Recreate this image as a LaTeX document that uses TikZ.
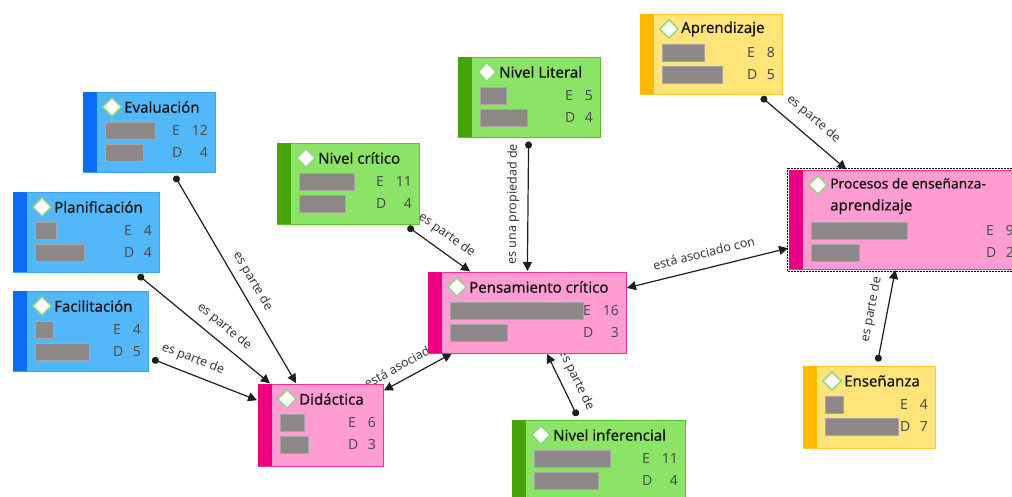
\documentclass[tikz,border=0pt]{standalone}
\usepackage{fontspec}
\setmainfont{Noto Sans}
\newfontfamily\titlefont{Noto Sans}[FakeBold=0.35]
\usetikzlibrary{arrows.meta,positioning,shapes.geometric,backgrounds}

\definecolor{blueFill}{HTML}{52B8FA}
\definecolor{blueBar}{HTML}{0A6CF0}
\definecolor{blueLine}{HTML}{3AA4F4}
\definecolor{greenFill}{HTML}{8CE466}
\definecolor{greenBar}{HTML}{46A50A}
\definecolor{greenLine}{HTML}{5CC22A}
\definecolor{pinkFill}{HTML}{FF9DD3}
\definecolor{pinkBar}{HTML}{EC0083}
\definecolor{pinkLine}{HTML}{F0319A}
\definecolor{yellowFill}{HTML}{FFE47A}
\definecolor{yellowBar}{HTML}{FFB900}
\definecolor{yellowLine}{HTML}{FFC72A}
\definecolor{quoteGray}{HTML}{8C8888}
\definecolor{numGray}{HTML}{4E4E4E}
\definecolor{iconGreen}{HTML}{8ED67E}
\definecolor{linkGray}{HTML}{1E1E1E}
\definecolor{labelGray}{HTML}{3A3A3A}

\tikzset{
  concept/.style={rectangle, line width=1pt, inner sep=0pt, outer sep=0pt},
  blueconcept/.style={concept, fill=blueFill, draw=blueLine},
  greenconcept/.style={concept, fill=greenFill, draw=greenLine},
  pinkconcept/.style={concept, fill=pinkFill, draw=pinkLine},
  yellowconcept/.style={concept, fill=yellowFill, draw=yellowLine},
  icon/.style={diamond, draw=iconGreen, fill=white, line width=1.4pt, inner sep=0pt, minimum size=19pt},
  conctitle/.style={anchor=west, inner sep=0pt, align=left, font=\titlefont\fontsize{15}{22}\selectfont, text=black!92},
  freqtext/.style={inner sep=0pt, font=\fontsize{14}{17}\selectfont, text=numGray},
  quotebar/.style={fill=quoteGray, draw=quoteGray!75!white, line width=0.6pt},
  link/.style={draw=linkGray, line width=1.2pt, {Circle[length=7pt]}-{Triangle[length=9pt,width=9pt]}, shorten <=4.5pt, shorten >=1pt},
  assoc/.style={draw=linkGray, line width=1.2pt, {Triangle[length=9pt,width=9pt]}-{Triangle[length=9pt,width=9pt]}, shorten <=1pt, shorten >=1pt},
  linklabel/.style={font=\fontsize{12.5}{14}\selectfont, text=labelGray, inner sep=2pt},
  selbox/.style={draw=black, line width=0.6pt, dash pattern=on 0.7pt off 0.8pt}
}

% body of a concept box: node, bar colour, title, quote widths, E, D, extra height
\newcommand{\conceptbody}[8]{%
  \fill[#2] (#1.north west) rectangle ([xshift=14pt]#1.south west);
  \node[icon] (#1-icon) at ([shift={(29,15)}]#1.north west) {};
  \node[conctitle] (#1-title) at ([shift={(41,15+#8/2)}]#1.north west) {#3};
  \filldraw[quotebar] ([shift={(22,30+#8)}]#1.north west) rectangle ++(#4,17);
  \filldraw[quotebar] ([shift={(22,52+#8)}]#1.north west) rectangle ++(#5,17);
  \ifnum#6>9 \def\ecol{-43}\else \def\ecol{-35}\fi
  \node[freqtext, anchor=west] (#1-e) at ([shift={(\ecol,38.5+#8)}]#1.north east) {E};
  \node[freqtext, anchor=east] (#1-en) at ([shift={(-7,38.5+#8)}]#1.north east) {#6};
  \node[freqtext, anchor=west] (#1-d) at ([shift={(\ecol,60.5+#8)}]#1.north east) {D};
  \node[freqtext, anchor=east] (#1-dn) at ([shift={(-7,60.5+#8)}]#1.north east) {#7};
}

\begin{document}
\begin{tikzpicture}[x=1pt, y=-1pt]
  \useasboundingbox (0,0) rectangle (1012,496);
  \clip (0,0) rectangle (1012,496);

  % Concept boxes
  \node[blueconcept, minimum width=132pt, minimum height=80pt] (eva) at (149,132) {};
  \node[blueconcept, minimum width=146pt, minimum height=80pt] (plan) at (86,232) {};
  \node[blueconcept, minimum width=135pt, minimum height=80pt] (faci) at (80.5,331) {};
  \node[greenconcept, minimum width=142pt, minimum height=81pt] (crit) at (348,183.5) {};
  \node[greenconcept, minimum width=142pt, minimum height=80pt] (lit) at (529,97) {};
  \node[pinkconcept, minimum width=198pt, minimum height=81pt] (pens) at (527,312.5) {};
  \node[pinkconcept, minimum width=125pt, minimum height=82pt] (dida) at (320.5,425) {};
  \node[greenconcept, minimum width=173pt, minimum height=80pt] (infe) at (598.5,460) {};
  \node[yellowconcept, minimum width=142pt, minimum height=80pt] (apre) at (711,54) {};
  \node[pinkconcept, minimum width=232pt, minimum height=99pt] (proc) at (905,219.5) {};
  \node[yellowconcept, minimum width=132pt, minimum height=82pt] (ense) at (869,407) {};

  \conceptbody{eva}{blueBar}{Evaluación}{50}{38}{12}{4}{0}
  \conceptbody{plan}{blueBar}{Planificación}{21}{49}{4}{4}{0}
  \conceptbody{faci}{blueBar}{Facilitación}{18}{54}{4}{5}{0}
  \conceptbody{crit}{greenBar}{Nivel crítico}{55}{46}{11}{4}{0}
  \conceptbody{lit}{greenBar}{Nivel Literal}{26}{47}{5}{4}{0}
  \conceptbody{pens}{pinkBar}{Pensamiento crítico}{133}{57}{16}{3}{0}
  \conceptbody{dida}{pinkBar}{Didáctica}{24}{28}{6}{3}{0}
  \conceptbody{infe}{greenBar}{Nivel inferencial}{76}{64}{11}{4}{0}
  \conceptbody{apre}{yellowBar}{Aprendizaje}{42}{60}{8}{5}{0}
  \conceptbody{proc}{pinkBar}{\fontsize{13.8}{22}\selectfont Procesos de enseñanza-\\aprendizaje}{96}{48}{9}{2}{22}
  \conceptbody{ense}{yellowBar}{Enseñanza}{18}{73}{4}{7}{0}

  % selection frame
  \draw[selbox] ([shift={(-2,-2)}]proc.north west) rectangle ([shift={(2,2)}]proc.south east);

  % Links, under the boxes
  \begin{pgfonlayer}{background}
    \fill[white] (0,0) rectangle (1012,496);
    \draw[link] (eva) -- (dida) node[linklabel, pos=0.55, sloped, above=5pt] {es parte de};
    \draw[link] (plan) -- (dida) node[linklabel, pos=0.59, sloped, above=6pt] {es parte de};
    \draw[link] (faci) -- (dida) node[linklabel, pos=0.36, sloped, above=6pt] {es parte de};
    \draw[link] (crit) -- (pens) node[linklabel, pos=0.5, sloped, above=7pt] {es parte de};
    \draw[link] (lit) -- (pens) node[linklabel, midway, sloped, above=6pt] {es una propiedad de};
    \draw[link] (infe) -- (pens) node[linklabel, pos=0.5, sloped, above=6pt] {es parte de};
    \draw[link] (apre) -- (proc) node[linklabel, pos=0.5, sloped, above=8pt] {es parte de};
    \draw[link] (ense) -- (proc) node[linklabel, pos=0.55, sloped, above=7pt] {es parte de};
    \draw[assoc] (pens) -- (dida) node[linklabel, pos=0.5, sloped, above=7pt] {está asociado con};
    \draw[assoc] (pens) -- (proc) node[linklabel, pos=0.5, sloped, above=8pt] {está asociado con};
  \end{pgfonlayer}
\end{tikzpicture}
\end{document}
